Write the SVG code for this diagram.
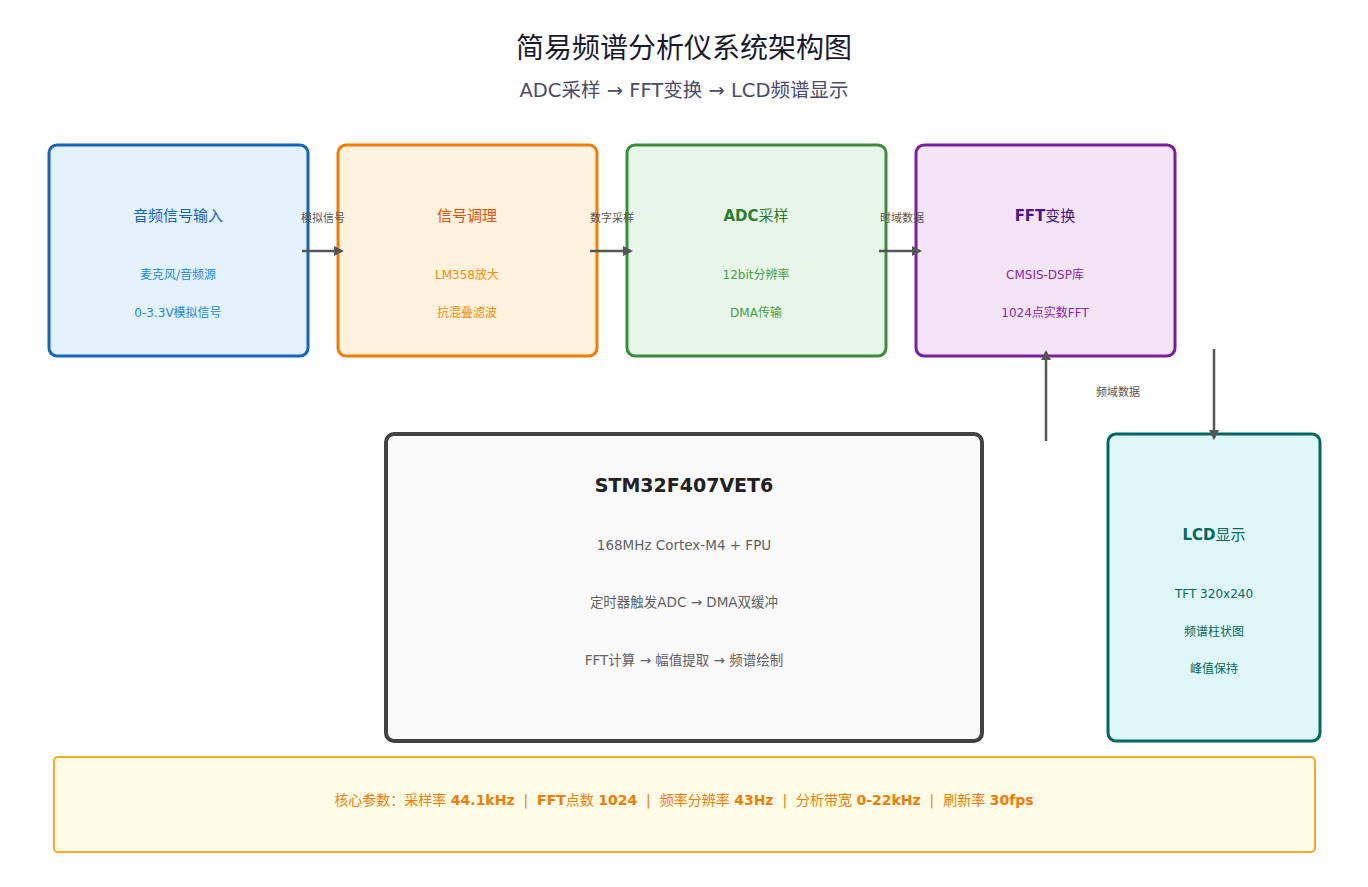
<svg xmlns="http://www.w3.org/2000/svg" width="1368" height="887" viewBox="0 0 1368 887">
<style>
text{font-family:"DejaVu Sans","Noto Sans CJK SC",sans-serif;text-anchor:middle}
.t{font-size:15px}
.s{font-size:12px}
.b{font-weight:bold}
.n{font-weight:normal}
.lbl{font-size:11px;fill:#555}
.conn{stroke:#555;stroke-width:2.5;fill:none}
.pre{white-space:pre}
</style>
<defs>
<marker id="ah" viewBox="0 0 10 10" refX="8" refY="5" markerWidth="4" markerHeight="4" orient="auto" markerUnits="strokeWidth">
<path d="M0,0 L10,5 L0,10 z" fill="#555"/>
</marker>
</defs>
<rect width="1368" height="887" fill="#ffffff"/>
<text x="684" y="58" font-size="28" fill="#1a1a2e">简易频谱分析仪系统架构图</text>
<text x="684" y="97" font-size="19.5" fill="#4a4a6a">ADC采样 → FFT变换 → LCD频谱显示</text>

<g id="node-input">
<rect x="49" y="145" width="259" height="211" rx="8" fill="#e3f2fd" stroke="#1565c0" stroke-width="3"/>
<text class="t" x="178" y="221" fill="#1565c0">音频信号输入</text>
<text class="s" x="178" y="279" fill="#1e88e5">麦克风/音频源</text>
<text class="s" x="178" y="317" fill="#1e88e5">0-3.3V模拟信号</text>
</g>
<g id="node-cond">
<rect x="338" y="145" width="259" height="211" rx="8" fill="#fff3e0" stroke="#f57c00" stroke-width="3"/>
<text class="t" x="467" y="221" fill="#e65100">信号调理</text>
<text class="s" x="467" y="279" fill="#fb8c00">LM358放大</text>
<text class="s" x="467" y="317" fill="#fb8c00">抗混叠滤波</text>
</g>
<g id="node-adc">
<rect x="627" y="145" width="259" height="211" rx="8" fill="#e8f5e9" stroke="#388e3c" stroke-width="3"/>
<text class="t b" x="756" y="221" fill="#2e7d32">ADC<tspan class="n">采样</tspan></text>
<text class="s" x="756" y="279" fill="#43a047">12bit分辨率</text>
<text class="s" x="756" y="317" fill="#43a047">DMA传输</text>
</g>
<g id="node-fft">
<rect x="916" y="145" width="259" height="211" rx="8" fill="#f3e5f5" stroke="#7b1fa2" stroke-width="3"/>
<text class="t b" x="1045" y="221" fill="#4a148c">FFT<tspan class="n">变换</tspan></text>
<text class="s" x="1045" y="279" fill="#8e24aa">CMSIS-DSP库</text>
<text class="s" x="1045" y="317" fill="#8e24aa">1024点实数FFT</text>
</g>
<g id="node-mcu">
<rect x="386" y="434" width="596" height="307" rx="8" fill="#fafafa" stroke="#424242" stroke-width="4"/>
<text x="684" y="492" font-size="19" font-weight="bold" fill="#212121">STM32F407VET6</text>
<text x="684" y="550" font-size="13.5" fill="#616161">168MHz Cortex-M4 + FPU</text>
<text x="684" y="607" font-size="13.5" fill="#616161">定时器触发ADC → DMA双缓冲</text>
<text x="684" y="665" font-size="13.5" fill="#616161">FFT计算 → 幅值提取 → 频谱绘制</text>
</g>
<g id="node-lcd">
<rect x="1108" y="434" width="212" height="307" rx="8" fill="#e0f7fa" stroke="#00695c" stroke-width="3"/>
<text class="t b" x="1214" y="540" fill="#00695c">LCD<tspan class="n">显示</tspan></text>
<text class="s" x="1214" y="598" fill="#00695c">TFT 320x240</text>
<text class="s" x="1214" y="636" fill="#00695c">频谱柱状图</text>
<text class="s" x="1214" y="673" fill="#00695c">峰值保持</text>
</g>
<g id="node-params">
<rect x="54" y="757" width="1261" height="95" rx="4" fill="#fffde7" stroke="#ffa726" stroke-width="2"/>
<text class="pre" x="684" y="805" font-size="14" fill="#f57c00" xml:space="preserve">核心参数：采样率 <tspan font-weight="bold">44.1kHz</tspan>  |  <tspan font-weight="bold">FFT</tspan>点数 <tspan font-weight="bold">1024</tspan>  |  频率分辨率 <tspan font-weight="bold">43Hz</tspan>  |  分析带宽 <tspan font-weight="bold">0-22kHz</tspan>  |  刷新率 <tspan font-weight="bold">30fps</tspan></text>
</g>

<g id="connectors">
<line class="conn" x1="302" y1="251" x2="342" y2="251" marker-end="url(#ah)"/>
<line class="conn" x1="590" y1="251" x2="631" y2="251" marker-end="url(#ah)"/>
<line class="conn" x1="879" y1="251" x2="920" y2="251" marker-end="url(#ah)"/>
<line class="conn" x1="1046" y1="441" x2="1046" y2="352" marker-end="url(#ah)"/>
<line class="conn" x1="1214" y1="349" x2="1214" y2="438" marker-end="url(#ah)"/>
<text class="lbl" x="323" y="222">模拟信号</text>
<text class="lbl" x="612" y="222">数字采样</text>
<text class="lbl" x="902" y="222">时域数据</text>
<text class="lbl" x="1118" y="396">频域数据</text>
</g>
</svg>
